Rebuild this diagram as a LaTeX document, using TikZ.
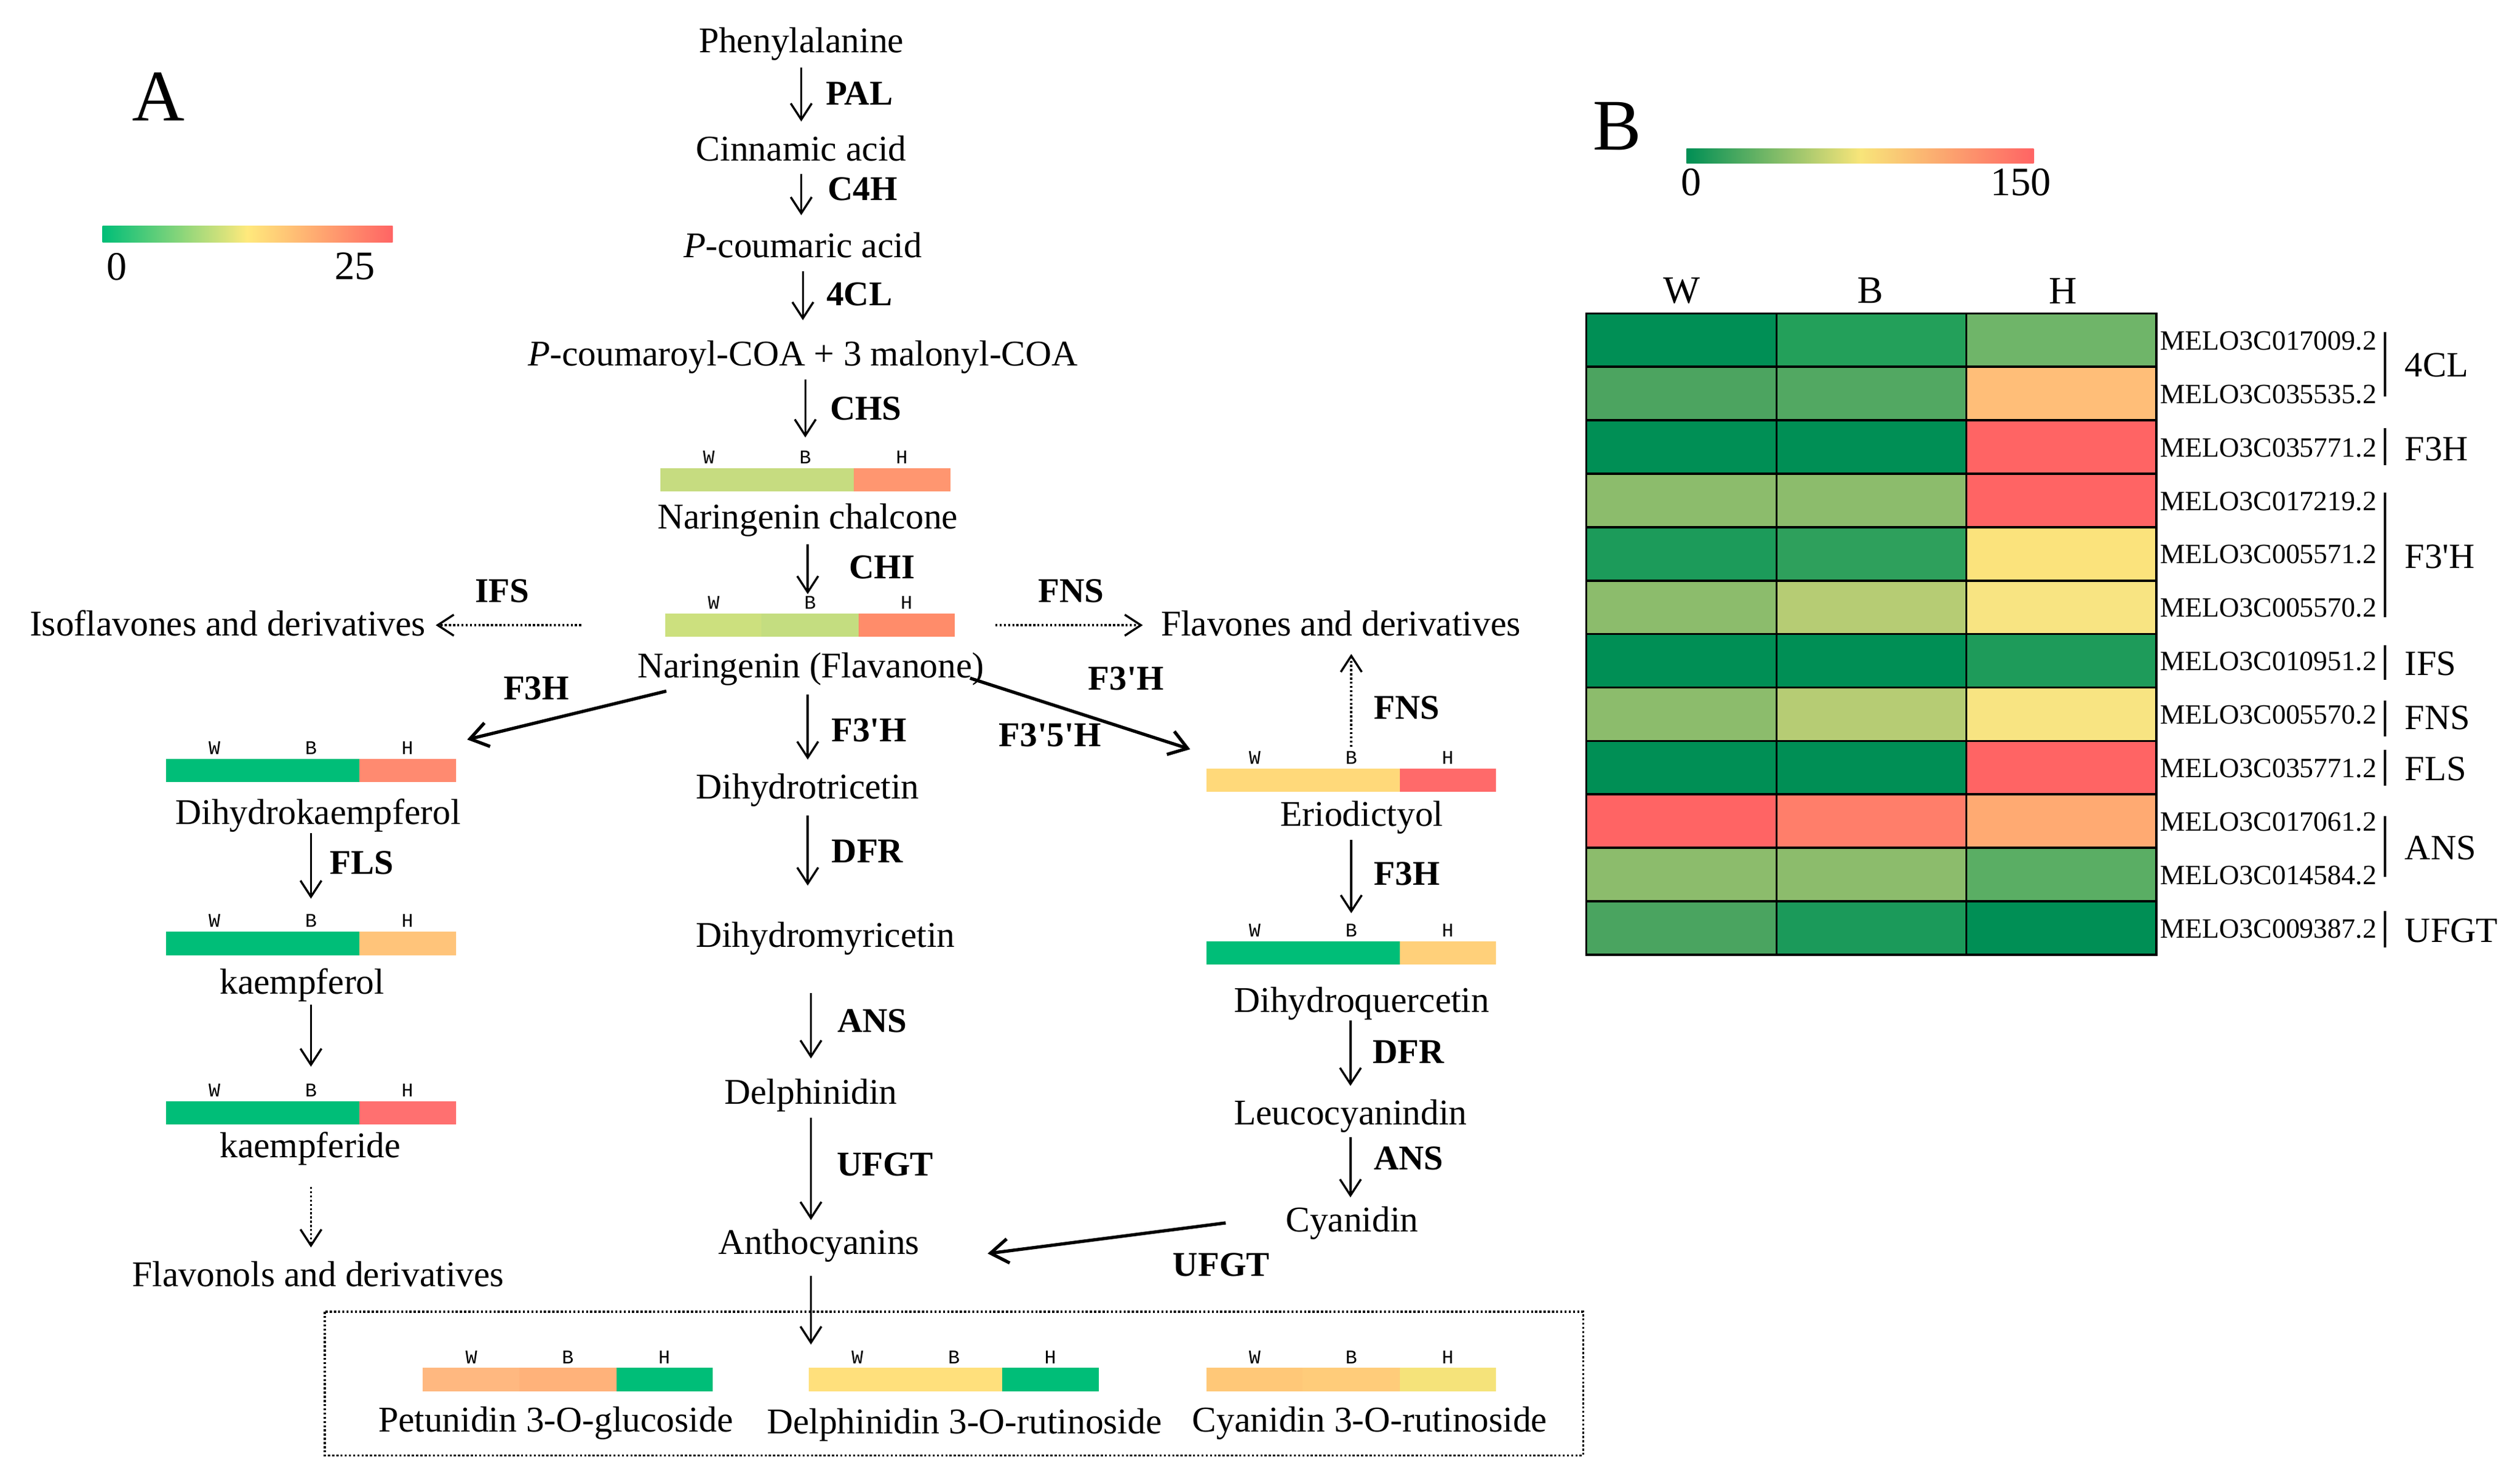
\documentclass[tikz,border=0pt]{standalone}
\usepackage{fontspec}
\setmainfont{Liberation Serif}
\newfontfamily\monofont{Liberation Mono}
\newfontfamily\rawserif{Liberation Serif}[Ligatures=TeXOff]
\usetikzlibrary{arrows.meta}
% bar colours
\definecolor{bG}{HTML}{00BE78}
\definecolor{bLGa}{HTML}{C6DC80}
\definecolor{bSala}{HTML}{FF9670}
\definecolor{bLGb}{HTML}{CCE07E}
\definecolor{bLGc}{HTML}{C4DD80}
\definecolor{bSalb}{HTML}{FF8C6A}
\definecolor{bSalc}{HTML}{FF8A70}
\definecolor{bOra}{HTML}{FFC47A}
\definecolor{bRda}{HTML}{FF7070}
\definecolor{bYea}{HTML}{FFD97A}
\definecolor{bRdb}{HTML}{FF6A6A}
\definecolor{bOrb}{HTML}{FFD07A}
\definecolor{bOrc}{HTML}{FFB880}
\definecolor{bOrd}{HTML}{FFB27A}
\definecolor{bYeb}{HTML}{FFE07C}
\definecolor{bOre}{HTML}{FFC878}
\definecolor{bOrf}{HTML}{FFCC7A}
\definecolor{bYec}{HTML}{F5E37A}
\definecolor{cbYA}{HTML}{FFE97C}
\definecolor{cbRA}{HTML}{FF6464}
% heatmap colours
\definecolor{hDG}{HTML}{008F55}
\definecolor{hGa}{HTML}{23A05A}
\definecolor{hGb}{HTML}{6FB569}
\definecolor{hGc}{HTML}{4CA460}
\definecolor{hGd}{HTML}{52A862}
\definecolor{hOr}{HTML}{FFBE78}
\definecolor{hRd}{HTML}{FF6464}
\definecolor{hLG}{HTML}{8CBC6C}
\definecolor{hGe}{HTML}{1C9B5A}
\definecolor{hGf}{HTML}{2EA05C}
\definecolor{hYe}{HTML}{FBE37C}
\definecolor{hOl}{HTML}{B6CC74}
\definecolor{hYeb}{HTML}{F8E482}
\definecolor{hGg}{HTML}{1E9B5A}
\definecolor{hSa}{HTML}{FF7E6A}
\definecolor{hOrb}{HTML}{FFAA72}
\definecolor{hGh}{HTML}{5AAE64}
\definecolor{hGi}{HTML}{4AA460}
\definecolor{hGj}{HTML}{1B9A5A}
\definecolor{cbYB}{HTML}{F8E57A}

\tikzset{
 lbl/.style={font=\fontsize{22.4}{26}\selectfont, inner sep=0pt, text height=17pt, text depth=2.2pt},
 enz/.style={font=\rawserif\bfseries\fontsize{21.5}{25}\selectfont, inner sep=0pt},
 wbh/.style={font=\monofont\fontsize{12}{12}\selectfont, inner sep=0pt, text height=8pt, text depth=0pt},
 barbox/.style={inner sep=0pt, minimum width=179pt, minimum height=14pt},
 arr/.style={line width=1.3pt, -{Straight Barb[length=10pt,width=13pt]}},
 darr/.style={line width=2pt, -{Straight Barb[length=11pt,width=15pt]}},
 dotarr/.style={arr, dash pattern=on 1.3pt off 1.3pt},
 gene/.style={font=\fontsize{17.3}{18}\selectfont, inner sep=0pt, anchor=west},
 grp/.style={font=\rawserif\fontsize{22}{26}\selectfont, inner sep=0pt, anchor=west},
 hdr/.style={font=\fontsize{24}{24}\selectfont, inner sep=0pt},
 brk/.style={line width=1.5pt},
 panel/.style={font=\fontsize{45}{45}\selectfont, inner sep=0pt},
 cblab/.style={font=\fontsize{25}{25}\selectfont, inner sep=0pt},
}

\newcommand\exprbar[6]{%
  \node[barbox] (#1) at ({#2+89.5},{#3+7}) {};
  \fill[#4] (#1.north west) rectangle ([xshift=59.67pt]#1.south west);
  \fill[#5] ([xshift=59.67pt]#1.north west) rectangle ([xshift=-59.67pt]#1.south east);
  \fill[#6] ([xshift=-59.67pt]#1.north east) rectangle (#1.south east);
  \node[wbh] (#1-w) at ({#2+29.8},{#3-7}) {W};
  \node[wbh] (#1-b) at ({#2+89.5},{#3-7}) {B};
  \node[wbh] (#1-h) at ({#2+149.2},{#3-7}) {H};
}

\begin{document}
\begin{tikzpicture}[x=1pt,y=-1pt]
\useasboundingbox (0,0) rectangle (1560,908.7);
\fill[white] (0,0) rectangle (1560,908.7);

% ---------- panel A ----------
\node[panel] (labA) at (98,60) {A};
\shade[left color=bG, right color=cbRA, middle color=cbYA] (63.5,140) rectangle (243,150);
\node[cblab] (cbAlo) at (72.4,165) {0};
\node[cblab] (cbAhi) at (219.6,165) {25};

% metabolites
\node[lbl] (phe) at (496,25) {Phenylalanine};
\node[lbl] (cin) at (496,92) {Cinnamic acid};
\node[lbl] (pcou) at (497,152) {\textit{P}-coumaric acid};
\node[lbl] (pcoa) at (497,219) {\textit{P}-coumaroyl-COA + 3 malonyl-COA};
\node[lbl] (chal) at (500,320) {Naringenin chalcone};
\node[lbl] (nar) at (502,412) {Naringenin (Flavanone)};
\node[lbl] (iso) at (141,386) {Isoflavones and derivatives};
\node[lbl] (flav) at (830,386) {Flavones and derivatives};
\node[lbl] (dhk) at (197,503) {Dihydrokaempferol};
\node[lbl] (kae) at (187,608) {kaempferol};
\node[lbl] (kaeide) at (192,709) {kaempferide};
\node[lbl] (flavol) at (197,789) {Flavonols and derivatives};
\node[lbl] (dht) at (500,487) {Dihydrotricetin};
\node[lbl] (dhm) at (511,579) {Dihydromyricetin};
\node[lbl] (del) at (502,676) {Delphinidin};
\node[lbl] (anth) at (507,769) {Anthocyanins};
\node[lbl] (erio) at (843,504) {Eriodictyol};
\node[lbl] (dhq) at (843,619) {Dihydroquercetin};
\node[lbl] (leu) at (836,689) {Leucocyanindin};
\node[lbl] (cya) at (837,755) {Cyanidin};
\node[lbl] (pet) at (344,879) {Petunidin 3-O-glucoside};
\node[lbl] (delr) at (597,880) {Delphinidin 3-O-rutinoside};
\node[lbl] (cyar) at (848,879) {Cyanidin 3-O-rutinoside};

% expression bars
\exprbar{chalbar}{409}{290}{bLGa}{bLGa}{bSala}
\exprbar{narbar}{412}{380}{bLGb}{bLGc}{bSalb}
\exprbar{dhkbar}{103}{470}{bG}{bG}{bSalc}
\exprbar{kaebar}{103}{577}{bG}{bG}{bOra}
\exprbar{kaeidebar}{103}{682}{bG}{bG}{bRda}
\exprbar{eriobar}{747}{476}{bYea}{bYea}{bRdb}
\exprbar{dhqbar}{747}{583}{bG}{bG}{bOrb}
\exprbar{petbar}{262}{847}{bOrc}{bOrd}{bG}
\exprbar{delrbar}{501}{847}{bYeb}{bYeb}{bG}
\exprbar{cyarbar}{747}{847}{bOre}{bOrf}{bYec}

% enzymes
\node[enz] (ePAL) at (532,58) {PAL};
\node[enz] (eC4H) at (534,117) {C4H};
\node[enz] (e4CL) at (532,182) {4CL};
\node[enz] (eCHS) at (536,253) {CHS};
\node[enz] (eCHI) at (546,351) {CHI};
\node[enz] (eIFS) at (311,366) {IFS};
\node[enz] (eFNS) at (663,366) {FNS};
\node[enz] (eF3Ha) at (332,426) {F3H};
\node[enz] (eF3pHa) at (538,452) {F3'H};
\node[enz] (eF3pHb) at (697,420) {F3'H};
\node[enz] (eF35H) at (650,455) {F3'5'H};
\node[enz] (eFLS) at (224,534) {FLS};
\node[enz] (eDFRa) at (537,527) {DFR};
\node[enz] (eANSa) at (540,632) {ANS};
\node[enz] (eUFGTa) at (548,721) {UFGT};
\node[enz] (eFNSb) at (871,438) {FNS};
\node[enz] (eF3Hb) at (871,541) {F3H};
\node[enz] (eDFRb) at (872,651) {DFR};
\node[enz] (eANSb) at (872,717) {ANS};
\node[enz] (eUFGTb) at (756,783) {UFGT};

% arrows
\draw[arr, shorten <=7pt, shorten >=7pt] (phe.south) -- (phe.south |- cin.north);
\draw[arr, shorten <=6pt, shorten >=9pt] (cin.south) -- (cin.south |- pcou.north);
\draw[arr, shorten <=6pt, shorten >=11pt] (pcou.south) -- (pcou.south |- pcoa.north);
\draw[arr, shorten <=6pt, shorten >=8pt] (chalbar-b.north |- pcoa.south) -- (chalbar-b.north);
\draw[arr, shorten <=7pt, shorten >=1pt] (chal.south) -- (chal.south |- narbar-b.north);
\draw[dotarr, shorten <=52pt, shorten >=6pt] (narbar.west) -- (narbar.west -| iso.east);
\draw[dotarr, shorten <=25pt, shorten >=11pt] (narbar.east) -- (narbar.east -| flav.west);
\draw[darr] ([shift={(18,6)}]nar.south west) -- ([shift={(7,-12)}]dhkbar.north east);
\draw[darr] ([shift={(-9,-2)}]nar.south east) -- ([shift={(-10,-12)}]eriobar.north west);
\draw[arr, shorten <=8pt, shorten >=7pt] (dht.north |- nar.south) -- (dht.north);
\draw[arr, shorten <=3pt, shorten >=9.5pt] (dhk.south -| kaebar-b.north) -- (kaebar-b.north);
\draw[arr, shorten <=4pt, shorten >=10.5pt] (kae.south -| kaeidebar-b.north) -- (kaeidebar-b.north);
\draw[dotarr, shorten <=16pt, shorten >=7pt] (kaeidebar-b |- kaeide.south) -- (kaeidebar-b |- flavol.north);
\draw[arr, shorten <=8pt, shorten >=21pt] (dht.south) -- (dht.south |- dhm.north);
\draw[arr, shorten <=26pt, shorten >=11pt] (del.north |- dhm.south) -- (del.north);
\draw[arr, shorten <=6pt, shorten >=4pt] (del.south) -- (del.south |- anth.north);
\draw[arr, shorten <=11pt, shorten >=3.5pt] (del.south |- anth.south) -- (del.south |- delrbar-w.north);
\draw[dotarr, shorten <=2.5pt, shorten >=9pt] (eriobar-b.north) -- (eriobar-b.north |- flav.south);
\draw[arr, shorten <=6pt, shorten >=6.5pt] (dhqbar-b.north |- erio.south) -- (dhqbar-b.north);
\draw[arr, shorten <=3pt, shorten >=7pt] (leu.north |- dhq.south) -- (leu.north);
\draw[arr, shorten <=5pt, shorten >=4pt] (leu.south) -- (leu.south |- cya.north);
\draw[darr] ([shift={(-37,2)}]cya.west) -- ([shift={(42,7)}]anth.east);

% dotted frame
\draw[line width=1.3pt, dash pattern=on 1.3pt off 1.3pt] (201,812) rectangle (980,901);

% ---------- panel B ----------
\node[panel] (labB) at (1001,78) {B};
\shade[left color=hDG, right color=hRd, middle color=cbYB] (1044,92) rectangle (1259,101);
\node[cblab] (cbBlo) at (1047,113) {0};
\node[cblab] (cbBhi) at (1251,113) {150};

\node[hdr] (hW) at (1041,180) {W};
\node[hdr] (hB) at (1158,180) {B};
\node[hdr] (hH) at (1277,180) {H};

\foreach \ca/\cb/\cc [count=\i from 0] in {hDG/hGa/hGb, hGc/hGd/hOr, hDG/hDG/hRd, hLG/hLG/hRd, hGe/hGf/hYe, hLG/hOl/hYeb, hDG/hDG/hGg, hLG/hOl/hYeb, hDG/hDG/hRd, hRd/hSa/hOrb, hLG/hLG/hGh, hGi/hGj/hDG}{
  \fill[\ca] (982,{194+33.08*\i}) rectangle (1099.67,{227.08+33.08*\i});
  \fill[\cb] (1099.67,{194+33.08*\i}) rectangle (1217.33,{227.08+33.08*\i});
  \fill[\cc] (1217.33,{194+33.08*\i}) rectangle (1335,{227.08+33.08*\i});
}
\foreach \i in {1,...,11} \draw[line width=1.4pt] (982,{194+33.08*\i}) -- (1335,{194+33.08*\i});
\draw[line width=1pt] (1099.67,194) -- (1099.67,591) (1217.33,194) -- (1217.33,591);
\draw[line width=1.4pt] (982,194) rectangle (1335,591);

\foreach \g [count=\i from 0] in {MELO3C017009.2, MELO3C035535.2, MELO3C035771.2, MELO3C017219.2, MELO3C005571.2, MELO3C005570.2, MELO3C010951.2, MELO3C005570.2, MELO3C035771.2, MELO3C017061.2, MELO3C014584.2, MELO3C009387.2}
  \node[gene] (gene\i) at (1337,{211+33.08*\i}) {\g};

\node[grp] (g4CL) at (1488.6,226) {4CL};
\node[grp] (gF3H) at (1488.6,278) {F3H};
\node[grp] (gF3pH) at (1488.6,344.5) {F3'H};
\node[grp] (gIFS) at (1488.6,411) {IFS};
\node[grp] (gFNS) at (1488.6,444.5) {FNS};
\node[grp] (gFLS) at (1488.6,476) {FLS};
\node[grp] (gANS) at (1488.6,525) {ANS};
\node[grp] (gUFGT) at (1488.6,576) {UFGT};

\draw[brk] (1476.5,205.5) -- (1476.5,245.5);
\draw[brk] (1476.5,265) -- (1476.5,288);
\draw[brk] (1476.5,305) -- (1476.5,382);
\draw[brk] (1476.5,399.5) -- (1476.5,421);
\draw[brk] (1476.5,433.5) -- (1476.5,456);
\draw[brk] (1476.5,464) -- (1476.5,486.5);
\draw[brk] (1476.5,505) -- (1476.5,543);
\draw[brk] (1476.5,564) -- (1476.5,586.5);
\end{tikzpicture}
\end{document}
